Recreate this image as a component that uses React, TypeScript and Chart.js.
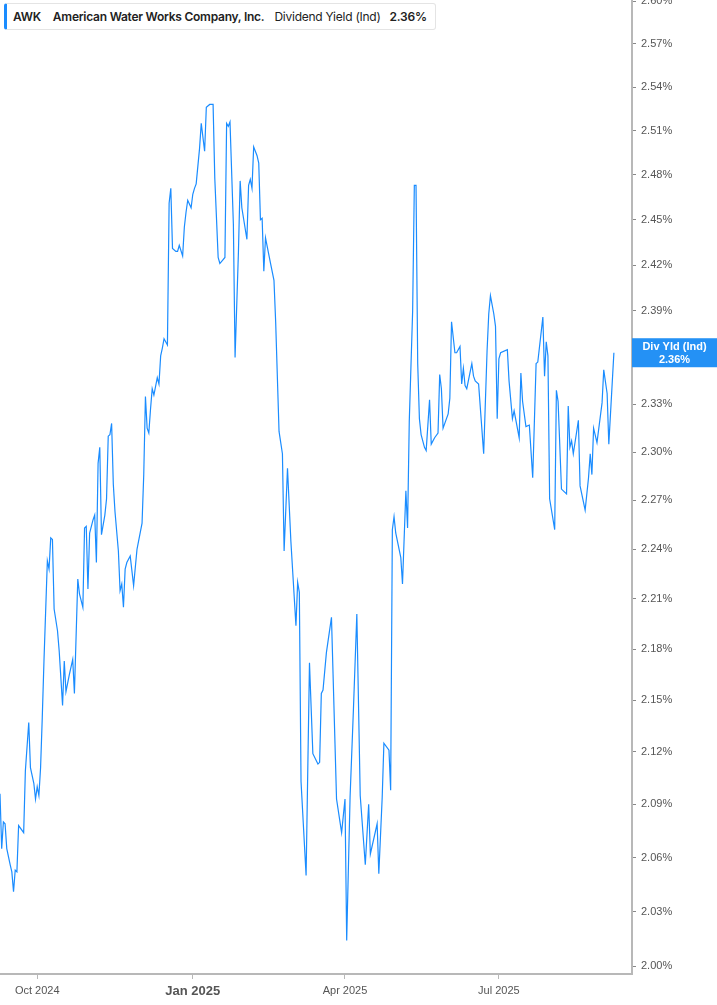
import { useEffect, useRef } from 'react';
import { Chart, registerables } from 'chart.js';

Chart.register(...registerables);

// AWK dividend yield (indicated), one point per trading day
const dates = [
  '2024-09-09', '2024-09-10', '2024-09-11', '2024-09-12', '2024-09-13', '2024-09-15', '2024-09-16', '2024-09-17', '2024-09-18', '2024-09-19',
  '2024-09-20', '2024-09-23', '2024-09-24', '2024-09-26', '2024-09-27', '2024-09-29', '2024-09-30', '2024-10-01', '2024-10-02', '2024-10-03',
  '2024-10-04', '2024-10-05', '2024-10-07', '2024-10-08', '2024-10-09', '2024-10-10', '2024-10-11', '2024-10-13', '2024-10-14', '2024-10-16',
  '2024-10-17', '2024-10-18', '2024-10-20', '2024-10-22', '2024-10-23', '2024-10-25', '2024-10-26', '2024-10-28', '2024-10-29', '2024-10-30',
  '2024-10-31', '2024-11-01', '2024-11-03', '2024-11-04', '2024-11-05', '2024-11-06', '2024-11-07', '2024-11-08', '2024-11-10', '2024-11-11',
  '2024-11-12', '2024-11-13', '2024-11-14', '2024-11-15', '2024-11-16', '2024-11-18', '2024-11-19', '2024-11-20', '2024-11-21', '2024-11-22',
  '2024-11-23', '2024-11-25', '2024-11-27', '2024-11-29', '2024-12-02', '2024-12-03', '2024-12-04', '2024-12-05', '2024-12-06', '2024-12-07',
  '2024-12-08', '2024-12-09', '2024-12-11', '2024-12-12', '2024-12-13', '2024-12-14', '2024-12-15', '2024-12-17', '2024-12-18', '2024-12-19',
  '2024-12-20', '2024-12-22', '2024-12-23', '2024-12-24', '2024-12-26', '2024-12-27', '2024-12-28', '2024-12-29', '2024-12-31', '2025-01-01',
  '2025-01-02', '2025-01-03', '2025-01-05', '2025-01-06', '2025-01-08', '2025-01-09', '2025-01-11', '2025-01-13', '2025-01-14', '2025-01-16',
  '2025-01-17', '2025-01-20', '2025-01-21', '2025-01-22', '2025-01-23', '2025-01-25', '2025-01-26', '2025-01-28', '2025-01-29', '2025-01-30',
  '2025-02-02', '2025-02-03', '2025-02-04', '2025-02-05', '2025-02-06', '2025-02-08', '2025-02-09', '2025-02-10', '2025-02-11', '2025-02-12',
  '2025-02-13', '2025-02-16', '2025-02-18', '2025-02-19', '2025-02-21', '2025-02-23', '2025-02-24', '2025-02-26', '2025-02-28', '2025-03-03',
  '2025-03-04', '2025-03-05', '2025-03-06', '2025-03-09', '2025-03-11', '2025-03-13', '2025-03-16', '2025-03-17', '2025-03-18', '2025-03-19',
  '2025-03-21', '2025-03-24', '2025-03-27', '2025-03-30', '2025-04-01', '2025-04-02', '2025-04-04', '2025-04-06', '2025-04-08', '2025-04-10',
  '2025-04-13', '2025-04-15', '2025-04-16', '2025-04-20', '2025-04-21', '2025-04-23', '2025-04-24', '2025-04-27', '2025-04-28', '2025-04-29',
  '2025-04-30', '2025-05-01', '2025-05-04', '2025-05-05', '2025-05-07', '2025-05-08', '2025-05-09', '2025-05-11', '2025-05-12', '2025-05-13',
  '2025-05-14', '2025-05-15', '2025-05-16', '2025-05-18', '2025-05-19', '2025-05-21', '2025-05-22', '2025-05-24', '2025-05-26', '2025-05-27',
  '2025-05-28', '2025-05-29', '2025-06-01', '2025-06-02', '2025-06-03', '2025-06-05', '2025-06-06', '2025-06-08', '2025-06-09', '2025-06-10',
  '2025-06-11', '2025-06-12', '2025-06-15', '2025-06-16', '2025-06-17', '2025-06-19', '2025-06-22', '2025-06-24', '2025-06-25', '2025-06-26',
  '2025-06-28', '2025-06-29', '2025-06-30', '2025-07-01', '2025-07-02', '2025-07-06', '2025-07-07', '2025-07-09', '2025-07-10', '2025-07-13',
  '2025-07-14', '2025-07-15', '2025-07-17', '2025-07-19', '2025-07-21', '2025-07-23', '2025-07-24', '2025-07-27', '2025-07-28', '2025-07-29',
  '2025-07-30', '2025-07-31', '2025-08-03', '2025-08-04', '2025-08-05', '2025-08-07', '2025-08-10', '2025-08-11', '2025-08-12', '2025-08-13',
  '2025-08-14', '2025-08-17', '2025-08-18', '2025-08-21', '2025-08-23', '2025-08-24', '2025-08-25', '2025-08-26', '2025-08-28', '2025-08-31',
  '2025-09-01', '2025-09-03', '2025-09-04', '2025-09-07',
];

const yieldValues = [
  2.096, 2.065, 2.080, 2.079, 2.065, 2.056, 2.052, 2.041, 2.053, 2.052,
  2.078, 2.074, 2.109, 2.137, 2.111, 2.102, 2.093, 2.100, 2.095, 2.111,
  2.140, 2.173, 2.233, 2.228, 2.247, 2.246, 2.204, 2.191, 2.179, 2.147,
  2.173, 2.155, 2.165, 2.174, 2.154, 2.222, 2.213, 2.205, 2.253, 2.254,
  2.216, 2.250, 2.258, 2.261, 2.232, 2.293, 2.303, 2.249, 2.261, 2.271,
  2.310, 2.311, 2.318, 2.280, 2.263, 2.239, 2.215, 2.219, 2.205, 2.228,
  2.232, 2.236, 2.218, 2.240, 2.256, 2.286, 2.335, 2.315, 2.312, 2.327,
  2.340, 2.336, 2.347, 2.343, 2.361, 2.366, 2.372, 2.368, 2.461, 2.471,
  2.431, 2.429, 2.429, 2.433, 2.426, 2.445, 2.455, 2.463, 2.458, 2.467,
  2.471, 2.474, 2.498, 2.515, 2.496, 2.526, 2.528, 2.528, 2.478, 2.425,
  2.421, 2.425, 2.515, 2.513, 2.516, 2.447, 2.360, 2.429, 2.476, 2.458,
  2.437, 2.473, 2.477, 2.471, 2.499, 2.493, 2.488, 2.450, 2.451, 2.416,
  2.438, 2.421, 2.410, 2.383, 2.313, 2.299, 2.239, 2.290, 2.245, 2.194,
  2.220, 2.214, 2.103, 2.050, 2.172, 2.119, 2.113, 2.114, 2.154, 2.156,
  2.178, 2.199, 2.093, 2.074, 2.093, 2.014, 2.094, 2.145, 2.201, 2.095,
  2.056, 2.090, 2.062, 2.079, 2.051, 2.094, 2.125, 2.121, 2.098, 2.252,
  2.260, 2.250, 2.235, 2.219, 2.276, 2.253, 2.319, 2.390, 2.473, 2.473,
  2.356, 2.321, 2.311, 2.303, 2.301, 2.333, 2.305, 2.309, 2.312, 2.349,
  2.340, 2.315, 2.324, 2.334, 2.383, 2.363, 2.363, 2.367, 2.343, 2.353,
  2.342, 2.340, 2.356, 2.348, 2.345, 2.343, 2.299, 2.364, 2.388, 2.400,
  2.388, 2.380, 2.321, 2.359, 2.363, 2.365, 2.345, 2.321, 2.326, 2.309,
  2.350, 2.332, 2.316, 2.317, 2.284, 2.356, 2.357, 2.386, 2.348, 2.370,
  2.361, 2.271, 2.252, 2.339, 2.332, 2.277, 2.274, 2.329, 2.303, 2.307,
  2.299, 2.320, 2.279, 2.264, 2.284, 2.299, 2.286, 2.315, 2.306, 2.331,
  2.352, 2.337, 2.305, 2.363,
];

const yTickValues = [
  2.0, 2.03, 2.06, 2.09, 2.12, 2.15, 2.18, 2.21, 2.24, 2.27, 2.3,
  2.33, 2.36, 2.39, 2.42, 2.45, 2.48, 2.51, 2.54, 2.57, 2.6,
];
const xTickDates = ['2024-10-01', '2025-01-01', '2025-04-01', '2025-07-01'];
const xTickLabels = ['Oct 2024', 'Jan 2025', 'Apr 2025', 'Jul 2025'];

const ticker = 'AWK';
const companyName = 'American Water Works Company, Inc.';
const metricName = 'Dividend Yield (Ind)';
const shortMetricName = 'Div Yld (Ind)';

const LINE_BLUE = '#1a8cff';
const BOX_BLUE = '#2491f5';
const AXIS_GREY = '#b8b8b8';
const FONT = "'Liberation Sans', Arial, sans-serif";

const toMs = (d: string) => Date.parse(d + 'T00:00:00Z');
const formatPct = (v: number) => v.toFixed(2) + '%';

// Blue tag on the right axis at the latest value
const lastValueTag = {
  id: 'lastValueTag',
  afterDraw(chart: Chart) {
    const yScale = chart.scales.y;
    const last = yieldValues[yieldValues.length - 1];
    const py = yScale.getPixelForValue(last);
    const ctx = chart.ctx;
    const left = chart.chartArea.right;
    const width = chart.width - left;
    ctx.save();
    ctx.fillStyle = BOX_BLUE;
    ctx.fillRect(left, py - 14.5, width, 29);
    ctx.fillStyle = '#ffffff';
    ctx.textAlign = 'center';
    ctx.textBaseline = 'middle';
    ctx.font = `bold 11px ${FONT}`;
    ctx.fillText(shortMetricName, left + width / 2, py - 6);
    ctx.fillText(formatPct(last), left + width / 2, py + 7);
    ctx.restore();
  },
};

function DividendYieldChart() {
  const chartRef = useRef<HTMLCanvasElement>(null);
  const chartInstance = useRef<Chart | null>(null);

  useEffect(() => {
    if (!chartRef.current) return;
    if (chartInstance.current) {
      chartInstance.current.destroy();
    }
    const ctx = chartRef.current.getContext('2d');
    if (!ctx) return;

    const points = dates.map((d, i) => ({ x: toMs(d), y: yieldValues[i] }));

    chartInstance.current = new Chart(ctx, {
      type: 'line',
      data: {
        datasets: [
          {
            label: metricName,
            data: points,
            borderColor: LINE_BLUE,
            borderWidth: 1.2,
            pointRadius: 0,
            tension: 0,
            fill: false,
          },
        ],
      },
      options: {
        responsive: true,
        maintainAspectRatio: false,
        animation: false,
        layout: { padding: 0 },
        plugins: {
          legend: { display: false },
          tooltip: { enabled: false },
        },
        scales: {
          x: {
            type: 'linear',
            min: toMs('2024-09-09'),
            max: Date.parse('2025-09-17T17:00:00Z'),
            afterBuildTicks: (scale: any) => {
              scale.ticks = xTickDates.map((d) => ({ value: toMs(d) }));
            },
            afterFit: (scale: any) => {
              scale.height = 31;
              scale.paddingLeft = 0;
              scale.paddingRight = 0;
            },
            ticks: {
              autoSkip: false,
              maxRotation: 0,
              padding: 5,
              color: '#555',
              callback: (_v: any, index: number) => xTickLabels[index],
              font: (c: any) =>
                c.index === 1
                  ? { family: FONT, size: 13, weight: 'bold' }
                  : { family: FONT, size: 11 },
            },
            grid: { drawOnChartArea: false, drawTicks: true, tickLength: 5, color: AXIS_GREY },
            border: { color: AXIS_GREY, width: 2 },
          },
          y: {
            type: 'logarithmic',
            position: 'right',
            min: 1.9958,
            max: 2.6008,
            afterBuildTicks: (scale: any) => {
              scale.ticks = yTickValues.map((v) => ({ value: v }));
            },
            afterFit: (scale: any) => {
              scale.width = 85;
              scale.paddingTop = 0;
              scale.paddingBottom = 0;
            },
            ticks: {
              padding: 5,
              color: '#555',
              font: { family: FONT, size: 11 },
              callback: (v: any) => formatPct(Number(v)),
            },
            grid: { drawOnChartArea: false, drawTicks: true, tickLength: 4, color: '#888' },
            border: { color: AXIS_GREY, width: 2 },
          },
        },
      },
      plugins: [lastValueTag],
    });

    return () => {
      if (chartInstance.current) {
        chartInstance.current.destroy();
        chartInstance.current = null;
      }
    };
  }, []);

  const current = formatPct(yieldValues[yieldValues.length - 1]);

  return (
    <div style={{ position: 'fixed', left: 0, top: 0, width: 717, height: 1005, background: '#fff' }}>
      <canvas ref={chartRef}></canvas>
      <div
        style={{
          position: 'absolute',
          left: 4,
          top: 3,
          height: 27,
          boxSizing: 'border-box',
          display: 'flex',
          alignItems: 'center',
          padding: '0 8px 0 6px',
          background: '#fff',
          border: '1px solid #e4e4e4',
          borderLeft: `3px solid ${LINE_BLUE}`,
          borderRadius: 3,
          fontFamily: "Inter, 'Liberation Sans', Arial, sans-serif",
          fontSize: 12,
          letterSpacing: '-0.25px',
          color: '#222',
          whiteSpace: 'nowrap',
        }}
      >
        <span style={{ fontWeight: 600, marginRight: 12 }}>{ticker}</span>
        <span style={{ fontWeight: 600, marginRight: 10 }}>{companyName}</span>
        <span style={{ fontWeight: 400, marginRight: 9 }}>{metricName}</span>
        <span style={{ fontWeight: 600 }}>{current}</span>
      </div>
    </div>
  );
}

export default function App() {
  return <DividendYieldChart />;
}
